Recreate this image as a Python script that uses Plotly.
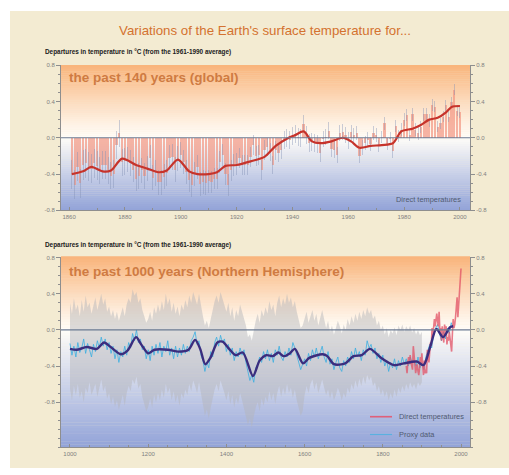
import plotly.graph_objects as go
import numpy as np

# ---------------- text ----------------
title_text = "Variations of the Earth's surface temperature for..."
subtitle_text = "Departures in temperature in °C (from the 1961-1990 average)"
top_label = "the past 140 years (global)"
bot_label = "the past 1000 years (Northern Hemisphere)"
legend_direct = "Direct temperatures"
legend_proxy = "Proxy data"

y_tick_vals = [-0.8, -0.4, 0.0, 0.4, 0.8]
y_tick_text = ["-0.8", "-0.4", "0.0", "0.4", "0.8"]
top_x_ticks = [1860, 1880, 1900, 1920, 1940, 1960, 1980, 2000]
bot_x_ticks = [1000, 1200, 1400, 1600, 1800, 2000]

# ---------------- top panel data (global, 1861-2000) ----------------
global_years = list(range(1861, 2001))
global_annual = [
    -0.41, -0.52, -0.32, -0.50, -0.30, -0.28, -0.32, -0.34, -0.28, -0.31,
    -0.36, -0.30, -0.30, -0.36, -0.42, -0.40, -0.08, 0.05, -0.27, -0.26,
    -0.24, -0.28, -0.35, -0.45, -0.42, -0.36, -0.42, -0.34, -0.22, -0.44,
    -0.39, -0.49, -0.49, -0.43, -0.39, -0.22, -0.21, -0.35, -0.23, -0.19,
    -0.27, -0.38, -0.47, -0.52, -0.40, -0.32, -0.51, -0.49, -0.50, -0.48,
    -0.49, -0.45, -0.45, -0.27, -0.19, -0.40, -0.52, -0.36, -0.30, -0.29,
    -0.22, -0.30, -0.30, -0.30, -0.21, -0.08, -0.20, -0.19, -0.35, -0.14,
    -0.10, -0.16, -0.30, -0.14, -0.17, -0.13, -0.02, 0.00, -0.02, 0.02,
    0.04, 0.01, 0.00, 0.15, 0.03, -0.06, -0.05, -0.06, -0.07, -0.17,
    -0.01, 0.01, 0.08, -0.12, -0.13, -0.19, 0.05, 0.06, 0.03, -0.03,
    0.06, 0.03, 0.05, -0.20, -0.11, -0.06, -0.02, -0.07, 0.05, 0.03,
    -0.09, 0.01, 0.16, -0.07, -0.01, -0.15, 0.13, 0.02, 0.09, 0.20,
    0.25, 0.03, 0.26, 0.09, 0.05, 0.12, 0.26, 0.26, 0.19, 0.36,
    0.34, 0.12, 0.16, 0.23, 0.36, 0.23, 0.39, 0.53, 0.30, 0.28,
]
global_err_by_decade = [0.16, 0.15, 0.14, 0.14, 0.13, 0.12, 0.11,
                        0.10, 0.10, 0.09, 0.08, 0.07, 0.07, 0.06]
global_smooth_years = [1861, 1865, 1868, 1872, 1875, 1879, 1884, 1888, 1892, 1895,
                       1899, 1903, 1906, 1910, 1913, 1916, 1920, 1925, 1930, 1934,
                       1938, 1941, 1944, 1947, 1950, 1954, 1958, 1961, 1964, 1968,
                       1972, 1976, 1979, 1983, 1986, 1989, 1992, 1995, 1997, 2000]
global_smooth = [-0.40, -0.37, -0.32, -0.37, -0.36, -0.23, -0.30, -0.34, -0.38, -0.36,
                 -0.24, -0.37, -0.40, -0.40, -0.38, -0.31, -0.30, -0.26, -0.21, -0.09,
                 -0.01, 0.03, 0.07, -0.04, -0.06, -0.04, 0.00, -0.04, -0.11, -0.09,
                 -0.08, -0.06, 0.07, 0.10, 0.14, 0.20, 0.22, 0.28, 0.34, 0.35]

# ---------------- bottom panel data (NH, 1000-2000) ----------------
grey_years = list(range(1000, 1901, 5))
grey_upper = [
    0.30, 0.18, 0.35, 0.22, 0.28, 0.15, 0.33, 0.20, 0.38, 0.25,
    0.30, 0.18, 0.27, 0.36, 0.22, 0.30, 0.40, 0.28, 0.35, 0.20,
    0.26, 0.15, 0.22, 0.12, 0.20, 0.10, 0.18, 0.25, 0.15, 0.28,
    0.35, 0.30, 0.45, 0.38, 0.42, 0.30, 0.35, 0.22, 0.15, 0.08,
    0.12, 0.20, 0.10, 0.25, 0.18, 0.28, 0.20, 0.32, 0.22, 0.40,
    0.28, 0.35, 0.20, 0.30, 0.18, 0.26, 0.15, 0.28, 0.22, 0.33,
    0.25, 0.38, 0.30, 0.42, 0.35, 0.28, 0.40, 0.25, 0.15, 0.05,
    0.10, 0.02, 0.12, 0.25, 0.32, 0.38, 0.30, 0.42, 0.35, 0.28,
    0.20, 0.30, 0.15, 0.25, 0.10, 0.22, 0.15, 0.28, 0.20, 0.12,
    0.05, -0.08, -0.05, -0.12, 0.00, 0.10, 0.18, 0.08, 0.22, 0.15,
    0.25, 0.18, 0.32, 0.22, 0.28, 0.15, 0.30, 0.38, 0.25, 0.35,
    0.28, 0.40, 0.30, 0.36, 0.25, 0.32, 0.20, 0.10, 0.02, 0.05,
    0.12, 0.20, 0.08, 0.15, 0.22, 0.10, 0.18, 0.05, 0.14, 0.22,
    0.12, 0.02, 0.10, -0.02, 0.05, -0.05, 0.02, 0.10, 0.04, -0.04,
    0.06, 0.00, 0.12, 0.05, 0.15, 0.08, 0.18, 0.10, 0.20, 0.12,
    0.22, 0.15, 0.25, 0.18, 0.22, 0.12, 0.16, 0.05, 0.10, 0.00,
    0.05, -0.05, 0.02, -0.08, 0.00, -0.04, 0.03, -0.06, 0.05, 0.00,
    0.06, -0.02, 0.04, 0.00, 0.05, -0.03, 0.02, -0.05, 0.00, -0.06,
    -0.02,
]
grey_lower = [
    -0.65, -0.78, -0.62, -0.72, -0.60, -0.75, -0.68, -0.80, -0.64, -0.70,
    -0.58, -0.72, -0.66, -0.60, -0.74, -0.65, -0.55, -0.68, -0.62, -0.76,
    -0.70, -0.82, -0.74, -0.85, -0.78, -0.88, -0.80, -0.72, -0.84, -0.70,
    -0.62, -0.68, -0.55, -0.60, -0.52, -0.65, -0.60, -0.74, -0.82, -0.90,
    -0.85, -0.76, -0.86, -0.72, -0.80, -0.70, -0.78, -0.66, -0.75, -0.60,
    -0.70, -0.64, -0.78, -0.68, -0.80, -0.72, -0.84, -0.70, -0.76, -0.66,
    -0.72, -0.60, -0.68, -0.56, -0.62, -0.70, -0.58, -0.72, -0.85, -0.95,
    -0.88, -0.98, -0.86, -0.74, -0.66, -0.60, -0.68, -0.56, -0.62, -0.70,
    -0.78, -0.68, -0.82, -0.72, -0.86, -0.75, -0.82, -0.70, -0.78, -0.86,
    -0.94, -1.05, -0.98, -1.08, -0.96, -0.86, -0.80, -0.90, -0.76, -0.84,
    -0.74, -0.80, -0.68, -0.78, -0.70, -0.82, -0.70, -0.62, -0.74, -0.64,
    -0.72, -0.60, -0.70, -0.64, -0.75, -0.66, -0.78, -0.88, -0.95, -0.90,
    -0.72, -0.62, -0.70, -0.60, -0.55, -0.66, -0.58, -0.70, -0.62, -0.55,
    -0.64, -0.72, -0.66, -0.76, -0.68, -0.78, -0.72, -0.64, -0.70, -0.78,
    -0.70, -0.75, -0.64, -0.70, -0.60, -0.66, -0.56, -0.64, -0.54, -0.62,
    -0.52, -0.60, -0.50, -0.56, -0.52, -0.62, -0.58, -0.68, -0.62, -0.72,
    -0.66, -0.74, -0.68, -0.78, -0.70, -0.76, -0.66, -0.74, -0.64, -0.70,
    -0.62, -0.68, -0.60, -0.66, -0.58, -0.64, -0.60, -0.66, -0.58, -0.62,
    -0.58,
]
proxy_years = list(range(1000, 1981, 5))
proxy_annual = [
    -0.15, -0.28, -0.18, -0.30, -0.14, -0.25, -0.20, -0.10, -0.26, -0.15,
    -0.22, -0.30, -0.16, -0.24, -0.12, -0.20, -0.08, -0.18, -0.10, -0.22,
    -0.14, -0.26, -0.18, -0.32, -0.22, -0.36, -0.24, -0.30, -0.18, -0.28,
    -0.14, -0.20, -0.04, -0.12, 0.00, -0.14, -0.10, -0.22, -0.18, -0.32,
    -0.22, -0.34, -0.18, -0.28, -0.16, -0.26, -0.14, -0.30, -0.18, -0.24,
    -0.12, -0.28, -0.20, -0.32, -0.18, -0.30, -0.20, -0.28, -0.16, -0.26,
    -0.18, -0.24, -0.12, -0.08, -0.02, -0.16, -0.12, -0.28, -0.34, -0.46,
    -0.36, -0.42, -0.24, -0.30, -0.14, -0.08, -0.18, -0.06, -0.14, -0.10,
    -0.24, -0.16, -0.28, -0.20, -0.34, -0.24, -0.30, -0.20, -0.28, -0.22,
    -0.36, -0.46, -0.56, -0.50, -0.58, -0.42, -0.38, -0.30, -0.36, -0.24,
    -0.32, -0.22, -0.34, -0.26, -0.36, -0.22, -0.28, -0.18, -0.30, -0.34,
    -0.24, -0.30, -0.20, -0.28, -0.14, -0.20, -0.28, -0.36, -0.44, -0.38,
    -0.32, -0.40, -0.26, -0.34, -0.22, -0.30, -0.20, -0.32, -0.24, -0.18,
    -0.30, -0.36, -0.24, -0.38, -0.32, -0.44, -0.36, -0.30, -0.42, -0.46,
    -0.34, -0.40, -0.30, -0.36, -0.24, -0.32, -0.20, -0.30, -0.24, -0.34,
    -0.22, -0.28, -0.12, -0.20, -0.16, -0.26, -0.20, -0.32, -0.26, -0.36,
    -0.28, -0.40, -0.34, -0.46, -0.36, -0.42, -0.32, -0.44, -0.34, -0.40,
    -0.30, -0.38, -0.32, -0.40, -0.30, -0.36, -0.34, -0.40, -0.30, -0.42,
    -0.36, -0.44, -0.30, -0.24, -0.16, -0.20, -0.06, 0.02, 0.06, -0.04,
    -0.12, -0.02, -0.10, 0.02, -0.04, 0.08, 0.02,
]
proxy_smooth_years = [1000, 1017, 1043, 1069, 1087, 1104, 1130, 1147, 1169, 1182,
                      1200, 1216, 1251, 1277, 1303, 1320, 1333, 1346, 1359, 1377,
                      1390, 1407, 1424, 1442, 1468, 1485, 1502, 1519, 1533, 1546,
                      1562, 1575, 1596, 1612, 1646, 1658, 1675, 1704, 1725, 1746,
                      1767, 1796, 1829, 1854, 1887, 1904, 1921, 1937, 1954, 1972, 1980]
proxy_smooth = [-0.21, -0.22, -0.19, -0.21, -0.14, -0.19, -0.27, -0.23, -0.08, -0.16,
                -0.26, -0.22, -0.22, -0.24, -0.22, -0.11, -0.21, -0.38, -0.31, -0.14,
                -0.13, -0.21, -0.28, -0.25, -0.51, -0.34, -0.28, -0.29, -0.25, -0.29,
                -0.26, -0.21, -0.37, -0.31, -0.27, -0.29, -0.38, -0.37, -0.29, -0.28,
                -0.21, -0.31, -0.39, -0.37, -0.35, -0.39, -0.19, 0.01, -0.08, 0.03, 0.04]
direct_nh_years = list(range(1860, 2001, 2))
direct_nh = [
    -0.40, -0.48, -0.36, -0.30, -0.38, -0.28, -0.36, -0.40, -0.44, -0.18,
    -0.30, -0.36, -0.48, -0.42, -0.38, -0.46, -0.50, -0.42, -0.30, -0.38,
    -0.26, -0.40, -0.50, -0.34, -0.48, -0.44, -0.48, -0.22, -0.34, -0.36,
    -0.24, -0.14, -0.18, 0.02, -0.06, 0.08, 0.12, 0.04, 0.10, 0.18,
    0.10, 0.04, 0.20, -0.02, 0.02, -0.12, 0.04, -0.08, -0.14, 0.06,
    -0.02, 0.04, -0.16, -0.08, -0.12, -0.02, -0.10, -0.16, -0.24, -0.04,
    0.12, 0.02, 0.06, 0.14, 0.30, 0.36, 0.14, 0.28, 0.36, 0.62,
    0.68,
]

# ---------------- layout geometry ----------------
W, H = 509, 475
def px(x):
    return x / W
def py(y):
    return 1 - y / H

X_DOM = [px(61), px(470)]
TOP_DOM = [py(210), py(63)]
BOT_DOM = [py(450), py(257)]
TOP_RANGE = [-0.8, 0.8]
BOT_RANGE = [-1.30, 0.81]

FONT = "Liberation Sans, Arial, sans-serif"
AXIS_COL = "#8e8e8e"
TICK_FONT = dict(family=FONT, size=6, color="#808080")

fig = go.Figure()

# ---- top panel traces ----
err_arr = np.repeat(global_err_by_decade, 10)[:len(global_years)]
fig.add_trace(go.Bar(
    x=global_years, y=global_annual, width=0.8,
    marker=dict(color="rgba(242,150,130,0.7)", line=dict(width=0)),
    error_y=dict(type="data", array=err_arr, color="rgba(130,145,180,0.6)",
                 thickness=0.7, width=0),
    xaxis="x", yaxis="y", showlegend=False, hoverinfo="skip"))
fig.add_trace(go.Scatter(
    x=global_smooth_years, y=global_smooth, mode="lines",
    line=dict(color="#c6332b", width=2.2, shape="spline", smoothing=0.8),
    xaxis="x", yaxis="y", showlegend=False, hoverinfo="skip"))

# ---- bottom panel traces ----
fig.add_trace(go.Scatter(
    x=grey_years, y=grey_upper, mode="lines", line=dict(width=0, color="rgba(0,0,0,0)"),
    xaxis="x2", yaxis="y2", showlegend=False, hoverinfo="skip"))
fig.add_trace(go.Scatter(
    x=grey_years, y=grey_lower, mode="lines", line=dict(width=0, color="rgba(0,0,0,0)"),
    fill="tonexty", fillcolor="rgba(180,180,185,0.47)",
    xaxis="x2", yaxis="y2", showlegend=False, hoverinfo="skip"))
fig.add_trace(go.Scatter(
    x=proxy_years, y=proxy_annual, mode="lines",
    line=dict(color="rgba(60,175,225,0.8)", width=1),
    xaxis="x2", yaxis="y2", showlegend=False, hoverinfo="skip"))
fig.add_trace(go.Scatter(
    x=direct_nh_years, y=direct_nh, mode="lines",
    line=dict(color="rgba(225,80,100,0.75)", width=1.6),
    xaxis="x2", yaxis="y2", showlegend=False, hoverinfo="skip"))
fig.add_trace(go.Scatter(
    x=proxy_smooth_years, y=proxy_smooth, mode="lines",
    line=dict(color="#3b2d7e", width=2.4, shape="spline", smoothing=0.8),
    xaxis="x2", yaxis="y2", showlegend=False, hoverinfo="skip"))

# dummy traces for right-hand label axes
fig.add_trace(go.Scatter(x=[None], y=[None], xaxis="x", yaxis="y3",
                         showlegend=False, hoverinfo="skip"))
fig.add_trace(go.Scatter(x=[None], y=[None], xaxis="x2", yaxis="y4",
                         showlegend=False, hoverinfo="skip"))

# ---------------- shapes ----------------
shapes = []
shapes.append(dict(type="rect", xref="paper", yref="paper",
                   x0=px(10), x1=1.0, y0=py(471), y1=py(8),
                   fillcolor="#f3ebd2", line=dict(width=0), layer="below"))

ORANGE = (249, 180, 122)
WHITE = (255, 253, 248)
BLUE = (146, 163, 216)

def mix(a, b, t):
    return "rgb(%d,%d,%d)" % tuple(round(a[i] + (b[i] - a[i]) * t) for i in range(3))

def gradient(xref, yref, yr):
    f0 = (0 - yr[0]) / (yr[1] - yr[0])
    n = 70
    out = []
    for i in range(n):
        a, b = i / n, (i + 1) / n
        m = (a + b) / 2
        if m >= f0:
            t = (m - f0) / (1 - f0)
            col = mix(WHITE, ORANGE, min(1, t ** 1.1))
        else:
            t = (f0 - m) / f0
            col = mix(WHITE, BLUE, t)
        out.append(dict(type="rect", xref=xref + " domain", yref=yref + " domain",
                        x0=0, x1=1, y0=a, y1=b + 0.002, fillcolor=col,
                        line=dict(width=0), layer="below"))
    return out

shapes += gradient("x", "y", TOP_RANGE)
shapes += gradient("x2", "y2", BOT_RANGE)

for xr, yr in (("x", "y"), ("x2", "y2")):
    shapes.append(dict(type="line", xref=xr + " domain", yref=yr, x0=0, x1=1, y0=0, y1=0,
                       line=dict(color="#6b7a92", width=1.2), layer="above"))

shapes.append(dict(type="line", xref="paper", yref="paper", x0=px(370), x1=px(392),
                   y0=py(419), y1=py(419), line=dict(color="#e0607a", width=1.6)))
shapes.append(dict(type="line", xref="paper", yref="paper", x0=px(370), x1=px(392),
                   y0=py(437), y1=py(437), line=dict(color="#5ab0e0", width=1.2)))

# ---------------- annotations ----------------
ann = []
ann.append(dict(text=title_text, x=px(265), y=py(28), xref="paper", yref="paper",
                showarrow=False, xanchor="center", yanchor="middle",
                font=dict(family=FONT, size=13.3, color="#d4722f")))
for yy in (50, 245):
    ann.append(dict(text="<b>" + subtitle_text + "</b>", x=px(43), y=py(yy),
                    xref="paper", yref="paper",
                    showarrow=False, xanchor="left", yanchor="middle",
                    font=dict(family=FONT, size=6.4, color="#202020")))
ann.append(dict(text="<b>" + top_label + "</b>", x=px(67), y=py(75), xref="paper", yref="paper",
                showarrow=False, xanchor="left", yanchor="middle",
                font=dict(family=FONT, size=13.5, color="#cf7b42")))
ann.append(dict(text="<b>" + bot_label + "</b>", x=px(67), y=py(272), xref="paper", yref="paper",
                showarrow=False, xanchor="left", yanchor="middle",
                font=dict(family=FONT, size=13.5, color="#cf7b42")))
ann.append(dict(text=legend_direct, x=px(463), y=py(199), xref="paper", yref="paper",
                showarrow=False, xanchor="right", yanchor="middle",
                font=dict(family=FONT, size=7.4, color="#505a70")))
ann.append(dict(text=legend_direct, x=px(397), y=py(419), xref="paper", yref="paper",
                showarrow=False, xanchor="left", yanchor="middle",
                font=dict(family=FONT, size=7.4, color="#505a70")))
ann.append(dict(text=legend_proxy, x=px(397), y=py(437), xref="paper", yref="paper",
                showarrow=False, xanchor="left", yanchor="middle",
                font=dict(family=FONT, size=7.4, color="#505a70")))

# ---------------- axes ----------------
def xaxis(rng, ticks, dtick_minor, anchor):
    return dict(domain=X_DOM, range=rng, anchor=anchor, tickvals=ticks,
                ticktext=[str(t) for t in ticks], showgrid=False, zeroline=False,
                showline=True, linecolor=AXIS_COL, linewidth=1, ticks="inside",
                ticklen=3, tickcolor=AXIS_COL, tickfont=TICK_FONT,
                minor=dict(dtick=dtick_minor, tick0=ticks[0], ticks="inside", ticklen=2,
                           tickcolor=AXIS_COL, showgrid=False),
                fixedrange=True)

def yaxis(dom, rng, anchor):
    return dict(domain=dom, range=rng, anchor=anchor, tickvals=y_tick_vals,
                ticktext=y_tick_text, showgrid=False, zeroline=False, showline=True,
                linecolor=AXIS_COL, linewidth=1, ticks="outside", ticklen=4,
                tickcolor=AXIS_COL, tickfont=TICK_FONT,
                minor=dict(dtick=0.1, tick0=0, ticks="outside", ticklen=2,
                           tickcolor=AXIS_COL, showgrid=False),
                fixedrange=True)

def yaxis_right(over, dom, rng, anchor):
    d = yaxis(dom, rng, anchor)
    d.update(overlaying=over, side="right")
    return d

fig.update_layout(
    width=W, height=H, margin=dict(l=0, r=0, t=0, b=0),
    paper_bgcolor="white", plot_bgcolor="rgba(0,0,0,0)",
    font=dict(family=FONT),
    showlegend=False, bargap=0,
    xaxis=xaxis([1857.1, 2003.6], top_x_ticks, 10, "y"),
    xaxis2=xaxis([977, 2023], bot_x_ticks, 50, "y2"),
    yaxis=yaxis(TOP_DOM, TOP_RANGE, "x"),
    yaxis2=yaxis(BOT_DOM, BOT_RANGE, "x2"),
    yaxis3=yaxis_right("y", TOP_DOM, TOP_RANGE, "x"),
    yaxis4=yaxis_right("y2", BOT_DOM, BOT_RANGE, "x2"),
    shapes=shapes, annotations=ann,
)

fig.write_html(
    "out.html",
    config={"displayModeBar": False, "staticPlot": True},
    post_script="document.body.style.margin='0';document.body.style.overflow='hidden';"
                "document.documentElement.style.overflow='hidden';",
)
